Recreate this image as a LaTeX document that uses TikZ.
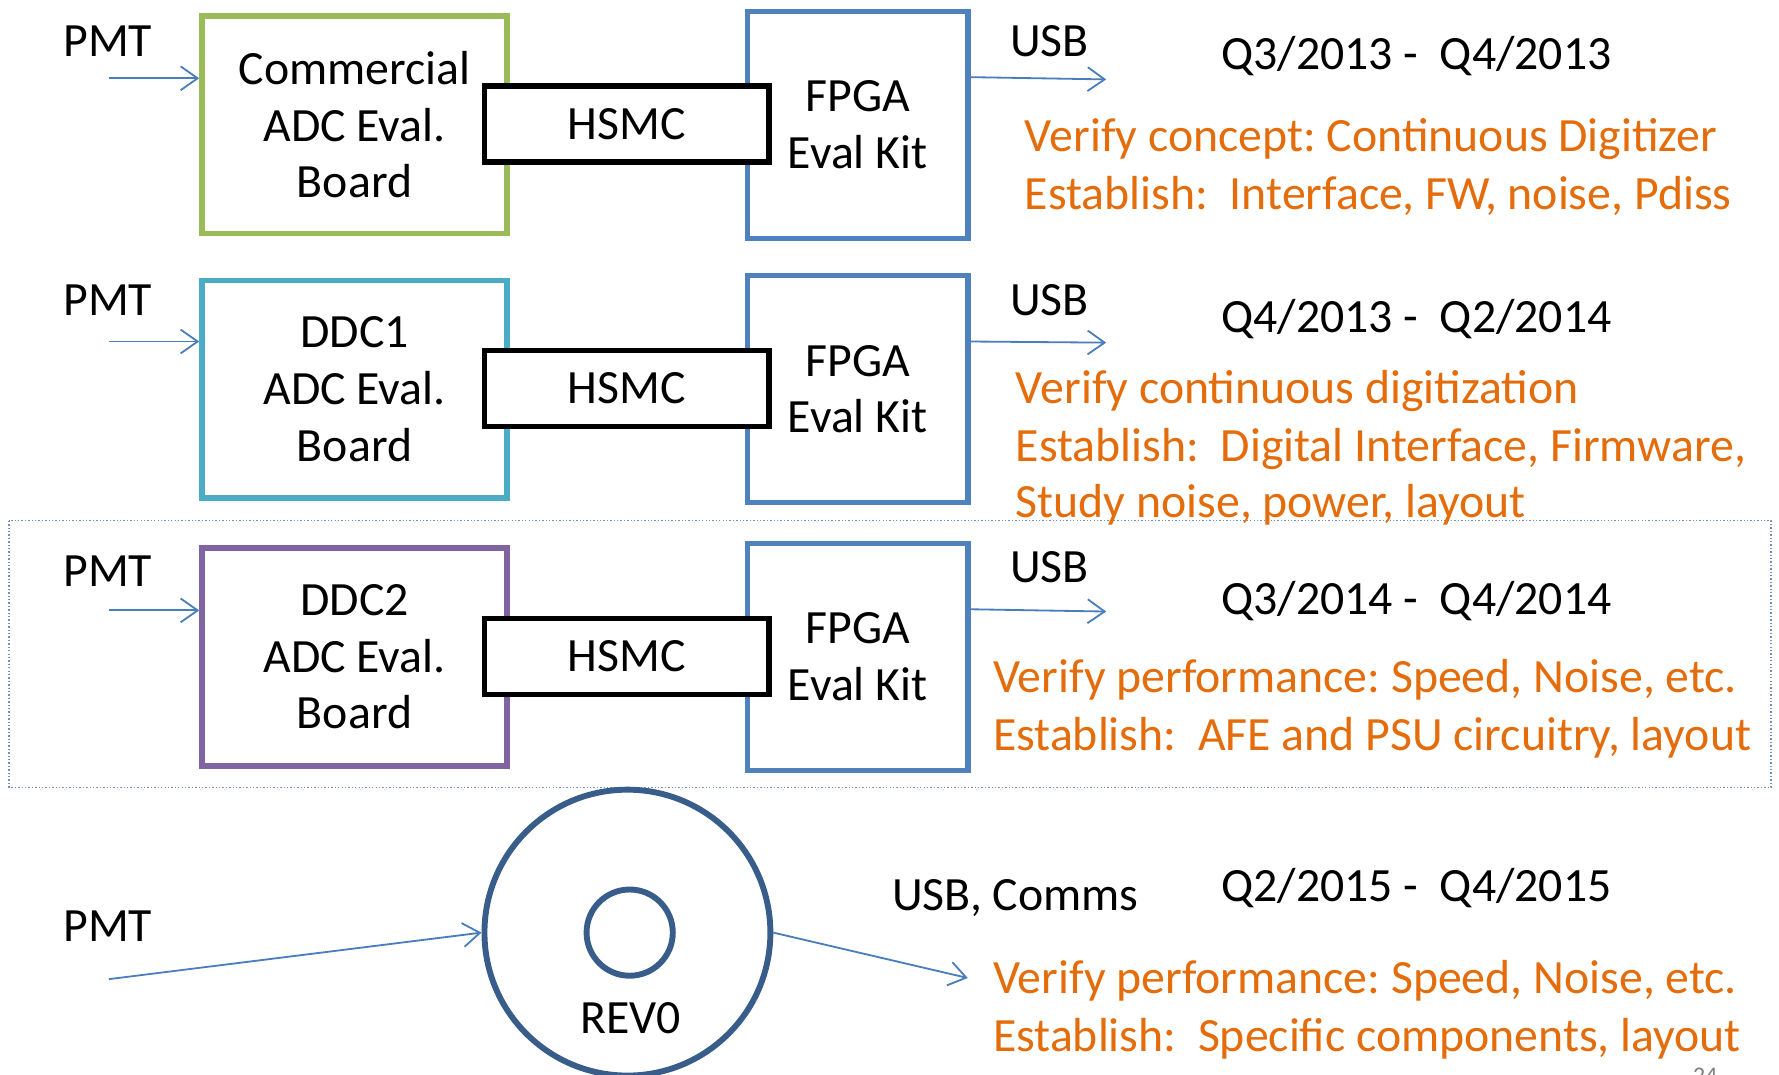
\documentclass[tikz,border=0pt]{standalone}
\usepackage{fontspec}
\setmainfont{Carlito}
\usetikzlibrary{arrows.meta}
\definecolor{cgreen}{HTML}{9BBB59}
\definecolor{ccyan}{HTML}{4BACC6}
\definecolor{cpurple}{HTML}{8064A2}
\definecolor{cblue}{HTML}{4F81BD}
\definecolor{cdark}{HTML}{385D8A}
\definecolor{corange}{HTML}{E46C0A}
\definecolor{carrow}{HTML}{4A7EBB}
\definecolor{cdot}{HTML}{6F8FBF}
\frenchspacing
\begin{document}
\begin{tikzpicture}[x=0.5pt,y=-0.5pt,
  every node/.style={font=\fontsize{21.05pt}{25pt}\selectfont, inner sep=0pt},
  adcbox/.style={draw=#1, line width=2.4pt, minimum width=134.5pt, minimum height=96pt, align=center},
  fpgabox/.style={draw=cblue, line width=2.4pt, minimum width=97pt, minimum height=100pt, align=center},
  hsmcbox/.style={draw=black, line width=2.5pt, fill=white, minimum width=125.5pt, minimum height=33.5pt},
  lbl/.style={anchor=base},
  qlbl/.style={anchor=base west},
  note/.style={anchor=base west, text=corange},
  sig/.style={draw=carrow, line width=0.8pt, -{Straight Barb[length=7.5pt,width=10.5pt]}},
]
\useasboundingbox (0,0) rectangle (1568,947);
\clip (0,0) rectangle (1568,947);
\fill[white] (0,0) rectangle (1568,947);

% dotted frame round row 3
\draw[cdot, line width=0.6pt, dash pattern=on 0.6pt off 0.9pt] (8,459) rectangle (1561,694);

% ---------- Row 1 ----------
\node[lbl] (pmtA) at (95,49.5) {PMT};
\node[adcbox=cgreen] (adcA) at (312.5,110) {Commercial\\ADC Eval.\\Board};
\node[fpgabox] (fpgaA) at (756,110) {FPGA\\Eval Kit};
\node[hsmcbox] (hsmcA) at (552.5,109.5) {HSMC};
\coordinate (pinA) at (96,69);
\coordinate (uoutA) at (975,70);
\draw[sig] (pinA) -- (adcA.west |- pinA);
\draw[sig] (fpgaA.east |- 0,68) -- (uoutA);
\node[lbl] (usbA) at (925,49.5) {USB};
\node[qlbl] (qA) at (1076,61.5) {Q3/2013 -~ Q4/2013};
\node[note] (vA) at (903,133.5) {Verify concept: Continuous Digitizer};
\node[note] (eA) at (903,184.5) {Establish:~ Interface, FW, noise, Pdiss};

% ---------- Row 2 ----------
\node[lbl] (pmtB) at (95,278.5) {PMT};
\node[adcbox=ccyan] (adcB) at (312.5,343) {DDC1\\ADC Eval.\\Board};
\node[fpgabox] (fpgaB) at (756,343) {FPGA\\Eval Kit};
\node[hsmcbox] (hsmcB) at (552.5,342.5) {HSMC};
\coordinate (pinB) at (96,301);
\coordinate (uoutB) at (975,302);
\draw[sig] (pinB) -- (adcB.west |- pinB);
\draw[sig] (fpgaB.east |- 0,301) -- (uoutB);
\node[lbl] (usbB) at (925,278.5) {USB};
\node[qlbl] (qB) at (1076,293.5) {Q4/2013 -~ Q2/2014};
\node[note] (vB) at (895,355.5) {Verify continuous digitization};
\node[note] (eB) at (895,406.5) {Establish:~ Digital Interface, Firmware,};
\node[note] (sB) at (895,456.5) {Study noise, power, layout};

% ---------- Row 3 ----------
\node[lbl] (pmtC) at (95,516.5) {PMT};
\node[adcbox=cpurple] (adcC) at (312.5,579) {DDC2\\ADC Eval.\\Board};
\node[fpgabox] (fpgaC) at (756,579) {FPGA\\Eval Kit};
\node[hsmcbox] (hsmcC) at (552.5,578.5) {HSMC};
\coordinate (pinC) at (96,538);
\coordinate (uoutC) at (975,539);
\draw[sig] (pinC) -- (adcC.west |- pinC);
\draw[sig] (fpgaC.east |- 0,537) -- (uoutC);
\node[lbl] (usbC) at (925,513.5) {USB};
\node[qlbl] (qC) at (1076,541.5) {Q3/2014 -~ Q4/2014};
\node[note] (vC) at (875,610.5) {Verify performance: Speed, Noise, etc.};
\node[note] (eC) at (875,661.5) {Establish:~ AFE and PSU circuitry, layout};

% ---------- Row 4 ----------
\node[lbl] (pmtD) at (95,829.5) {PMT};
\node[circle, draw=cdark, line width=2.6pt, minimum size=126pt] (revD) at (553,822) {};
\node[circle, draw=cdark, line width=2.6pt, minimum size=38pt] (coreD) at (555,822) {};
\node[lbl] (revlbl) at (556,910.5) {REV0};
\coordinate (pinD) at (96,863);
\coordinate (uoutD) at (853,862);
\draw[sig] (pinD) -- (revD.west);
\draw[sig] (revD.east) -- (uoutD);
\node[lbl] (usbD) at (895,802.5) {USB, Comms};
\node[qlbl] (qD) at (1076,794.5) {Q2/2015 -~ Q4/2015};
\node[note] (vD) at (875,875.5) {Verify performance: Speed, Noise, etc.};
\node[note] (eD) at (875,926.5) {Establish:~ Specific components, layout};

% page number, cut by the lower edge
\node[anchor=base, text=gray, font=\fontsize{10.5pt}{12pt}\selectfont] (pg) at (1503,955) {24};
\end{tikzpicture}
\end{document}
